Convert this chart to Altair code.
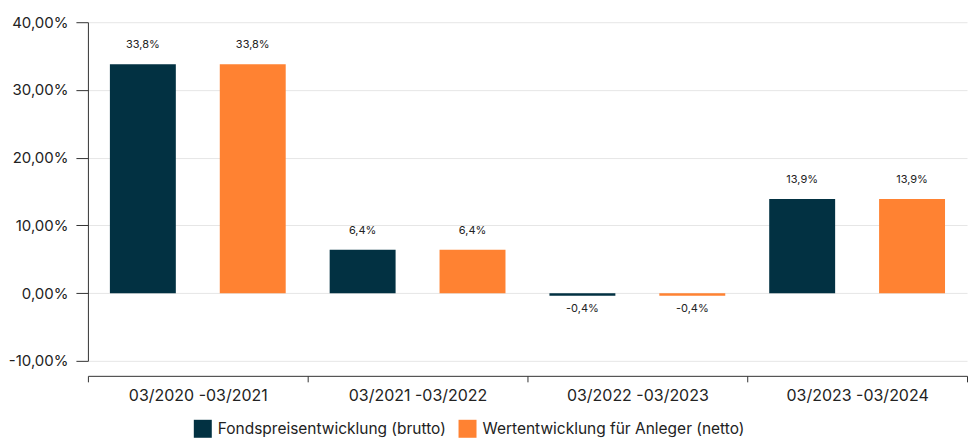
import altair as alt
import pandas as pd

periods = ["03/2020 -03/2021", "03/2021 -03/2022", "03/2022 -03/2023", "03/2023 -03/2024"]
series = ["Fondspreisentwicklung (brutto)", "Wertentwicklung für Anleger (netto)"]
brutto = [33.8, 6.4, -0.4, 13.9]
netto = [33.8, 6.4, -0.4, 13.9]
colors = ["#023142", "#FF8232"]
y_ticks = [-10, 0, 10, 20, 30, 40]

rows = []
for p, b, n in zip(periods, brutto, netto):
    rows.append({"period": p, "series": series[0], "value": b})
    rows.append({"period": p, "series": series[1], "value": n})
df = pd.DataFrame(rows)

FONT = "Inter"
TXT = "#222222"

x_enc = alt.X(
    "period:N", sort=periods, title=None,
    scale=alt.Scale(paddingInner=0, paddingOuter=0),
    axis=alt.Axis(labelAngle=0, tickBand="extent", offset=15, domainColor="#333333",
                  tickColor="#333333", tickSize=6, labelPadding=6, labelFontSize=16,
                  labelColor=TXT, grid=False, labelFont=FONT),
)
xo_enc = alt.XOffset("series:N", sort=series,
                     scale=alt.Scale(paddingInner=0.4, paddingOuter=0.2))
y_enc = alt.Y(
    "value:Q", title=None,
    scale=alt.Scale(domain=[-10, 40], nice=False, zero=False),
    axis=alt.Axis(values=y_ticks, tickSize=12, labelPadding=8, gridColor="#e6e6e6",
                  domainColor="#333333", tickColor="#333333", labelFontSize=15,
                  labelColor=TXT, labelFont=FONT,
                  labelExpr="replace(replace(format(datum.value, '.2f'), '.', ','), '\u2212', '-') + '%'"),
)

base = alt.Chart(df).encode(x=x_enc, xOffset=xo_enc, y=y_enc)

bars = base.mark_bar().encode(
    color=alt.Color("series:N", sort=series,
                    scale=alt.Scale(domain=series, range=colors),
                    legend=alt.Legend(title=None, orient="none", direction="horizontal",
                                      legendX=106, legendY=398, symbolType="square",
                                      symbolSize=324, symbolStrokeWidth=0, labelFontSize=15.5,
                                      labelFont=FONT, labelColor=TXT, columnPadding=12,
                                      labelOffset=6, labelLimit=0)),
)

lab = "replace(replace(format(datum.value, '.1f'), '.', ','), '\u2212', '-') + '%'"
pos_text = base.transform_filter("datum.value >= 0").transform_calculate(label=lab).mark_text(
    baseline="bottom", dy=-14, fontSize=11, font=FONT, color=TXT
).encode(text="label:N")
neg_text = base.transform_filter("datum.value < 0").transform_calculate(label=lab).mark_text(
    baseline="top", dy=7, fontSize=11, font=FONT, color=TXT
).encode(text="label:N")

chart = alt.layer(bars, pos_text, neg_text).properties(
    width=880, height=339, padding={"left": 0, "top": 7, "right": 0, "bottom": 0}
).configure_view(stroke=None)

chart.save("out.html", embed_options={"renderer": "svg", "actions": False})
